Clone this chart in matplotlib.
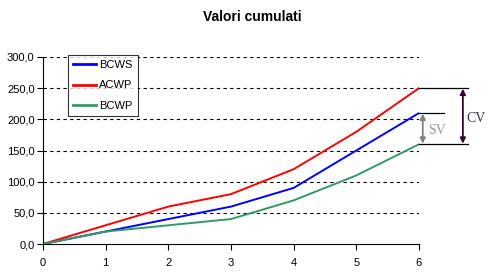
import numpy as np
import matplotlib
matplotlib.use('Agg')
import matplotlib.pyplot as plt

# data
periods = [0, 1, 2, 3, 4, 5, 6]
bcws = [0, 20, 40, 60, 90, 150, 210]
acwp = [0, 30, 60, 80, 120, 180, 250]
bcwp = [0, 20, 30, 40, 70, 110, 160]
yticks = [0, 50, 100, 150, 200, 250, 300]

plt.rcParams['font.family'] = ['Liberation Sans', 'DejaVu Sans']

fig = plt.figure(figsize=(4.9, 2.73), dpi=100)
ax = fig.add_axes([43/490, 1-244/273, 376/490, 187/273])

ax.plot(periods, bcws, color='#0000ff', lw=1.4, label='BCWS')
ax.plot(periods, acwp, color='#ff0000', lw=1.4, label='ACWP')
ax.plot(periods, bcwp, color='#339966', lw=1.4, label='BCWP')

ax.set_xlim(0, 6)
ax.set_ylim(0, 300)
ax.set_xticks(periods)
ax.set_yticks(yticks)
ax.set_yticklabels([('%.1f' % v).replace('.', ',') for v in yticks])
ax.tick_params(labelsize=8, length=4, width=0.8, colors='black')
ax.tick_params(axis='x', pad=6)
ax.tick_params(axis='y', pad=2)
for y in yticks[1:]:
    ax.axhline(y, color='black', lw=0.8, ls=(0, (3, 3)), zorder=0)
ax.spines['top'].set_visible(False)
ax.spines['right'].set_visible(False)

fig.text(252/490, 1-17/273, 'Valori cumulati', fontsize=10, fontweight='bold',
         ha='center', va='center')

leg = ax.legend(loc='upper left', bbox_to_anchor=(0.066, 1.011), fontsize=8,
                frameon=True, fancybox=False, edgecolor='black',
                handlelength=2.1, handletextpad=0.27, labelspacing=0.95,
                borderpad=0.45, borderaxespad=0)
leg.get_frame().set_linewidth(0.8)
for h in leg.get_lines():
    h.set_linewidth(2)

# variance annotations to the right of the plot
end_x = periods[-1]
ax.plot([end_x, 6.78], [acwp[-1], acwp[-1]], color='black', lw=0.9, clip_on=False)
ax.plot([end_x, 6.78], [bcwp[-1], bcwp[-1]], color='black', lw=0.9, clip_on=False)
ax.plot([end_x, 6.40], [bcws[-1], bcws[-1]], color='black', lw=0.9, clip_on=False)
ax.annotate('', xy=(6.06, bcws[-1] - 1), xytext=(6.06, bcwp[-1] + 1),
            arrowprops=dict(arrowstyle='<|-|>', color='#808080', lw=1.3,
                            mutation_scale=8, shrinkA=0, shrinkB=0),
            annotation_clip=False)
ax.annotate('', xy=(6.70, acwp[-1] - 1), xytext=(6.70, bcwp[-1] + 1),
            arrowprops=dict(arrowstyle='<|-|>', color='#330033', lw=1.3,
                            mutation_scale=8, shrinkA=0, shrinkB=0),
            annotation_clip=False)
ax.text(6.14, 182, 'SV', color='#999999', fontsize=10, family='Liberation Serif',
        va='center', ha='left', clip_on=False)
ax.text(6.76, 202, 'CV', color='#333366', fontsize=10, family='Liberation Serif',
        va='center', ha='left', clip_on=False)

fig.savefig('out.png', dpi=100)
